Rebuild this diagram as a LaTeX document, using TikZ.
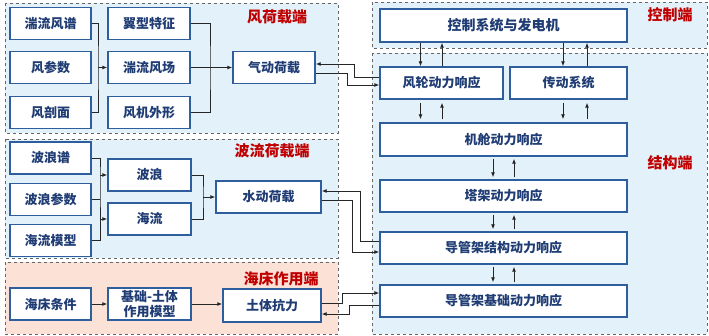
\documentclass[tikz,border=0pt]{standalone}
\usepackage{fontspec}
\setmainfont{Noto Sans CJK SC}
\usepackage{xcolor}
\usetikzlibrary{arrows.meta}

\definecolor{boxblue}{HTML}{2F5E9E}
\definecolor{txtblue}{HTML}{1F3C74}
\definecolor{lblred}{HTML}{C00000}
\definecolor{paleblue}{HTML}{E3F1FA}
\definecolor{palered}{HTML}{FBE1D6}

\begin{document}
\begin{tikzpicture}[x=1pt, y=-1pt,
    every node/.style={font=\fontsize{13}{14}\selectfont\bfseries},
    box/.style={draw=boxblue, line width=1.4pt, fill=white, text=txtblue, inner sep=0pt, minimum height=32pt},
    lab/.style={text=lblred, font=\fontsize{15}{16}\selectfont\bfseries},
    zone/.style={draw=black!60, dashed, line width=0.9pt},
    link/.style={line width=0.9pt, draw=black!85},
    arr/.style={link, -{Latex[length=5pt,width=4pt]}}]
    \useasboundingbox (0,0) rectangle (709,336);

    % zones
    \draw[zone, fill=paleblue] (5,3) rectangle (338,133);
    \draw[zone, fill=paleblue] (5,139) rectangle (338,258);
    \draw[zone, fill=palered] (5,262) rectangle (338,334);
    \draw[zone, fill=paleblue] (372,2) rectangle (707,48);
    \draw[zone, fill=paleblue] (372,53) rectangle (707,334);

    \node[lab] (lwind) at (277,17) {风荷载端};
    \node[lab] (lwave) at (272,151) {波流荷载端};
    \node[lab] (lbed) at (281,279) {海床作用端};
    \node[lab] (lctrl) at (670,15) {控制端};
    \node[lab] (lstruct) at (670,163) {结构端};

    % wind load
    \node[box, minimum width=81pt] (spec) at (50.5,23.5) {湍流风谱};
    \node[box, minimum width=81pt] (wpar) at (50.5,67.5) {风参数};
    \node[box, minimum width=81pt] (prof) at (50.5,112.5) {风剖面};
    \node[box, minimum width=82pt] (foil) at (149,23.5) {翼型特征};
    \node[box, minimum width=82pt] (field) at (149,67.5) {湍流风场};
    \node[box, minimum width=82pt] (shape) at (149,112.5) {风机外形};
    \node[box, minimum width=82pt] (aero) at (274,67.5) {气动荷载};

    \coordinate (wj1) at (98,67.5);
    \coordinate (wj2) at (210,67.5);
    \draw[link] (spec.east) -| (wj1) |- (prof.east);
    \draw[arr] (wj1) -- (field.west);
    \draw[link] (foil.east) -| (wj2) |- (shape.east);
    \draw[arr] (field.east) -- (aero.west);

    % wave and current load
    \node[box, minimum width=81pt] (wspec) at (50.5,158) {波浪谱};
    \node[box, minimum width=81pt] (wvpar) at (50.5,199.5) {波浪参数};
    \node[box, minimum width=81pt] (cmod) at (50.5,240.5) {海流模型};
    \node[box, minimum width=83pt] (wave) at (149.5,175) {波浪};
    \node[box, minimum width=83pt] (curr) at (149.5,219) {海流};
    \node[box, minimum width=105pt] (hydro) at (268.5,197) {水动荷载};

    \coordinate (bj1) at (100,175);
    \coordinate (bj2) at (203,197);
    \draw[link] (wspec.east) -| (bj1) |- (cmod.east);
    \draw[link] (wvpar.east) -- (wvpar.east -| bj1);
    \draw[arr] (bj1) -- (wave.west);
    \draw[arr] (curr.west -| bj1) -- (curr.west);
    \draw[link] (wave.east) -| (bj2) |- (curr.east);
    \draw[arr] (bj2) -- (hydro.west);

    % seabed
    \node[box, minimum width=81pt] (bed) at (50.5,304) {海床条件};
    \node[box, minimum width=83pt, align=center, font=\fontsize{13}{15}\selectfont\bfseries] (fsm) at (149.5,304) {基础-土体\\作用模型};
    \node[box, minimum width=98pt, minimum height=33pt] (soil) at (272,305.5) {土体抗力};
    \draw[arr] (bed) -- (fsm);
    \draw[arr] (fsm) -- (soil.west |- fsm);

    % control and structure
    \node[box, minimum width=247pt, minimum height=33pt, font=\fontsize{14}{15}\selectfont\bfseries] (ctrl) at (503.5,25.5) {控制系统与发电机};
    \node[box, minimum width=123pt] (rotor) at (441.5,83) {风轮动力响应};
    \node[box, minimum width=117pt] (drive) at (568.5,83) {传动系统};
    \node[box, minimum width=247pt, minimum height=33pt] (nac) at (503.5,139.5) {机舱动力响应};
    \node[box, minimum width=247pt] (tower) at (503.5,196) {塔架动力响应};
    \node[box, minimum width=247pt] (jacket) at (503.5,248) {导管架结构动力响应};
    \node[box, minimum width=247pt] (found) at (503.5,301) {导管架基础动力响应};

    \draw[arr] ([xshift=-21pt]rotor.north |- ctrl.south) -- ([xshift=-21pt]rotor.north);
    \draw[arr] ([xshift=0.5pt]rotor.north) -- ([xshift=0.5pt]rotor.north |- ctrl.south);
    \draw[arr] ([xshift=-5.5pt]drive.north |- ctrl.south) -- ([xshift=-5.5pt]drive.north);
    \draw[arr] ([xshift=18.5pt]drive.north) -- ([xshift=18.5pt]drive.north |- ctrl.south);
    \draw[arr, shorten <=3pt, shorten >=3pt] ([xshift=-21pt]rotor.south) -- ([xshift=-21pt]rotor.south |- nac.north);
    \draw[arr, shorten <=3pt, shorten >=3pt] ([xshift=0.5pt]rotor.south |- nac.north) -- ([xshift=0.5pt]rotor.south);
    \draw[arr, shorten <=3pt, shorten >=3pt] ([xshift=-5.5pt]drive.south) -- ([xshift=-5.5pt]drive.south |- nac.north);
    \draw[arr, shorten <=3pt, shorten >=3pt] ([xshift=18.5pt]drive.south |- nac.north) -- ([xshift=18.5pt]drive.south);
    \foreach \up/\dn in {nac/tower, tower/jacket, jacket/found} {
        \draw[arr, shorten <=2pt, shorten >=2pt] ([xshift=-10.5pt]\up.south) -- ([xshift=-10.5pt]\dn.north);
        \draw[arr, shorten <=2pt, shorten >=2pt] ([xshift=10.5pt]\dn.north) -- ([xshift=10.5pt]\up.south);
    }

    % load exchange
    \draw[arr] ([yshift=6pt]rotor.west) -- ++(-25,0) |- ([yshift=3.5pt]aero.east);
    \draw[arr] ([yshift=-5.5pt]aero.east) -- ++(32,0) |- ([yshift=-2pt]rotor.west);
    \draw[arr] ([yshift=7pt]jacket.west) -- ++(-19,0) |- ([yshift=6pt]hydro.east);
    \draw[arr] ([yshift=-3pt]hydro.east) -- ++(31,0) |- ([yshift=-4pt]jacket.west);
    \draw[arr] ([yshift=2.5pt]soil.east) -- ++(21,0) |- ([yshift=8pt]found.west);
    \draw[arr] ([yshift=-4pt]found.west) -- ++(-30,0) |- ([yshift=-8.5pt]soil.east);
\end{tikzpicture}
\end{document}
